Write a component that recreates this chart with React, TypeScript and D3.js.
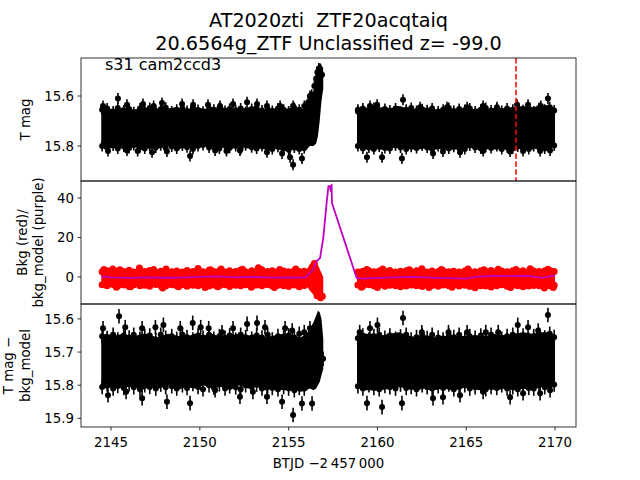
import React from "react";
import * as d3 from "d3";

// ---------------- Data ----------------
// Common time grid (BTJD) for the dense-cloud envelopes; null row marks the data gap.
const envTime = [
  2144.45, 2144.7, 2145.2, 2145.7, 2146.2, 2146.7, 2147.2, 2147.7, 2148.2, 2148.7,
  2149.2, 2149.7, 2150.2, 2150.7, 2151.2, 2151.7, 2152.2, 2152.7, 2153.2, 2153.7,
  2154.2, 2154.7, 2155.2, 2155.7, 2156.0, 2156.2, 2156.4, 2156.55, 2156.65, 2156.75,
  2156.85, 2156.95,
  2157.9,
  2158.85, 2159.2, 2159.7, 2160.2, 2160.7, 2161.2, 2161.7, 2162.2, 2162.7, 2163.2,
  2163.7, 2164.2, 2164.7, 2165.2, 2165.7, 2166.2, 2166.7, 2167.2, 2167.7, 2168.2,
  2168.7, 2169.2, 2169.7, 2170.0,
];

// Panel 1: T mag, bright / faint edge of the dense cloud
const tmagBright = [
  15.66, 15.645, 15.655, 15.645, 15.655, 15.65, 15.645, 15.655, 15.65, 15.645,
  15.655, 15.645, 15.65, 15.655, 15.645, 15.65, 15.655, 15.645, 15.65, 15.655,
  15.65, 15.655, 15.645, 15.655, 15.64, 15.61, 15.58, 15.53, 15.49, 15.47,
  15.475, 15.5,
  null,
  15.66, 15.645, 15.65, 15.645, 15.65, 15.64, 15.65, 15.655, 15.65, 15.655,
  15.65, 15.655, 15.65, 15.655, 15.65, 15.655, 15.645, 15.65, 15.645, 15.64,
  15.645, 15.64, 15.635, 15.65,
];
const tmagFaint = [
  15.8, 15.815, 15.805, 15.81, 15.8, 15.815, 15.805, 15.81, 15.8, 15.815,
  15.805, 15.81, 15.8, 15.81, 15.805, 15.815, 15.8, 15.81, 15.805, 15.815,
  15.81, 15.82, 15.815, 15.82, 15.815, 15.8, 15.8, 15.79, 15.76, 15.7,
  15.62, 15.57,
  null,
  15.8, 15.815, 15.81, 15.815, 15.81, 15.805, 15.81, 15.815, 15.81, 15.815,
  15.81, 15.815, 15.81, 15.805, 15.815, 15.81, 15.815, 15.81, 15.815, 15.81,
  15.815, 15.805, 15.8, 15.795,
];

// Points sitting on the edges of the dense clouds (all three panels share these times)
const edgeTime = [
  2144.5, 2144.78, 2145.12, 2145.38, 2145.72, 2146.02, 2146.28, 2146.63, 2146.9, 2147.18,
  2147.52, 2147.8, 2148.08, 2148.42, 2148.7, 2149.02, 2149.28, 2149.61, 2149.9, 2150.18,
  2150.52, 2150.79, 2151.1, 2151.42, 2151.68, 2152.02, 2152.3, 2152.58, 2152.92, 2153.2,
  2153.5, 2153.82, 2154.08, 2154.4, 2154.72, 2155.0, 2155.32, 2155.6, 2155.88,
  2158.9, 2159.18, 2159.52, 2159.8, 2160.1, 2160.42, 2160.7, 2161.02, 2161.3, 2161.62,
  2161.9, 2162.2, 2162.52, 2162.8, 2163.08, 2163.42, 2163.7, 2164.02, 2164.3, 2164.6,
  2164.92, 2165.2, 2165.5, 2165.82, 2166.1, 2166.4, 2166.72, 2167.0, 2167.3, 2167.62,
  2167.9, 2168.2, 2168.52, 2168.8, 2169.1, 2169.42, 2169.7, 2169.95,
];
const edgeTop1 = [
  15.655, 15.65, 15.662, 15.648, 15.658, 15.652, 15.665, 15.65, 15.657, 15.648,
  15.66, 15.653, 15.647, 15.662, 15.655, 15.65, 15.66, 15.648, 15.656, 15.663,
  15.65, 15.655, 15.648, 15.66, 15.652, 15.657, 15.65, 15.664, 15.652, 15.648,
  15.658, 15.653, 15.66, 15.65, 15.655, 15.662, 15.648, 15.655, 15.64,
  15.662, 15.65, 15.656, 15.648, 15.66, 15.652, 15.658, 15.65, 15.663, 15.655,
  15.648, 15.66, 15.653, 15.657, 15.65, 15.662, 15.655, 15.648, 15.66, 15.652,
  15.656, 15.65, 15.662, 15.655, 15.648, 15.658, 15.652, 15.66, 15.65, 15.655,
  15.648, 15.657, 15.65, 15.662, 15.648, 15.655, 15.645, 15.658,
];
const edgeBot1 = [
  15.8, 15.806, 15.798, 15.81, 15.802, 15.808, 15.796, 15.805, 15.81, 15.8,
  15.806, 15.797, 15.808, 15.802, 15.81, 15.798, 15.805, 15.812, 15.8, 15.796,
  15.806, 15.803, 15.81, 15.798, 15.807, 15.8, 15.812, 15.797, 15.805, 15.81,
  15.8, 15.807, 15.812, 15.803, 15.81, 15.815, 15.806, 15.812, 15.808,
  15.8, 15.81, 15.806, 15.812, 15.802, 15.808, 15.81, 15.798, 15.806, 15.812,
  15.803, 15.808, 15.798, 15.806, 15.812, 15.8, 15.807, 15.81, 15.803, 15.808,
  15.812, 15.798, 15.806, 15.81, 15.803, 15.808, 15.8, 15.812, 15.805, 15.81,
  15.802, 15.808, 15.812, 15.8, 15.806, 15.81, 15.802, 15.798,
];

// Panel 1: scattered points outside the dense cloud (incl. the rising flare column)
const tmagOutTime = [
  2144.55, 2145.39, 2145.9, 2146.8, 2147.4, 2147.87, 2149.0, 2149.62, 2150.46, 2151.14,
  2151.87, 2152.66, 2153.22, 2153.78, 2154.52, 2155.25, 2156.2,
  2144.83, 2145.9, 2147.31, 2148.15, 2149.45, 2150.86, 2152.26, 2153.78, 2154.63, 2155.25,
  2155.08, 2155.75, 2146.5, 2151.5,
  2158.9, 2159.58, 2159.98, 2161.44, 2162.4, 2163.92, 2165.05, 2165.95, 2166.73, 2167.86,
  2168.48, 2169.2, 2169.6,
  2159.41, 2160.26, 2161.38, 2163.13, 2163.69, 2164.65, 2165.95, 2167.47, 2168.2, 2169.16,
  2169.72,
  2156.1, 2156.3, 2156.45, 2156.55, 2156.62, 2156.7, 2156.78, 2156.88,
];
const tmagOutMag = [
  15.64, 15.61, 15.635, 15.632, 15.64, 15.628, 15.632, 15.635, 15.635, 15.64,
  15.632, 15.625, 15.632, 15.64, 15.64, 15.64, 15.6,
  15.82, 15.818, 15.825, 15.822, 15.84, 15.818, 15.818, 15.825, 15.83, 15.875,
  15.845, 15.85, 15.82, 15.82,
  15.655, 15.64, 15.635, 15.615, 15.645, 15.645, 15.645, 15.64, 15.645, 15.635,
  15.635, 15.64, 15.61,
  15.845, 15.845, 15.85, 15.83, 15.822, 15.825, 15.82, 15.822, 15.82, 15.82,
  15.818,
  15.625, 15.595, 15.56, 15.53, 15.505, 15.49, 15.492, 15.515,
];

// Panel 2: background flux (red) envelope and scattered points
const bkgHigh = [
  3.5, 3.8, 3.2, 4.0, 3.4, 3.9, 3.3, 3.7, 3.5, 3.2,
  3.8, 3.4, 3.6, 3.9, 3.3, 3.7, 3.4, 3.8, 3.5, 3.6,
  3.4, 3.7, 3.3, 3.6, 3.5, 6.5, 7.5, 8.0, 6.0, 4.0,
  2.0, 0.0,
  null,
  3.0, 3.5, 3.2, 3.6, 3.3, 3.5, 3.8, 3.2, 3.4, 3.1,
  3.5, 3.3, 3.6, 3.2, 3.4, 3.6, 3.3, 3.5, 3.2, 3.6,
  3.4, 3.3, 3.7, 3.4,
];
const bkgLow = [
  -4.0, -4.6, -4.2, -4.8, -4.3, -4.9, -4.4, -4.6, -4.2, -4.7,
  -4.5, -4.3, -4.8, -4.4, -4.6, -4.2, -4.7, -4.4, -4.6, -4.3,
  -4.7, -4.5, -4.8, -4.6, -4.5, -7.0, -9.0, -10.5, -11.5, -12.0,
  -12.0, -11.0,
  null,
  -4.2, -4.8, -4.5, -4.7, -4.4, -4.8, -4.5, -4.9, -4.6, -4.4,
  -4.8, -4.6, -4.9, -4.5, -4.7, -4.4, -4.8, -4.6, -4.9, -4.5,
  -4.7, -4.8, -4.6, -4.5,
];
const edgeTop2 = [
  2.6, 3.2, 2.4, 3.0, 2.8, 3.4, 2.5, 3.1, 2.7, 3.3,
  2.4, 2.9, 3.2, 2.6, 3.0, 2.5, 3.3, 2.8, 3.1, 2.6,
  3.4, 2.7, 3.0, 2.5, 3.2, 2.8, 3.5, 2.6, 3.1, 2.9,
  3.6, 2.7, 3.2, 2.8, 3.0, 2.6, 3.1, 2.7, 2.9,
  2.5, 2.9, 3.2, 2.6, 3.0, 2.7, 3.3, 2.5, 2.9, 3.1,
  2.6, 3.2, 2.8, 2.5, 3.0, 2.7, 3.1, 2.6, 2.9, 2.5,
  3.0, 2.7, 2.6, 3.2, 2.8, 3.3, 2.7, 3.0, 2.6, 3.1,
  2.8, 3.2, 2.6, 3.0, 2.7, 3.1, 3.3, 2.8,
];
const edgeBot2 = [
  -4.0, -4.5, -3.8, -4.6, -4.1, -4.8, -3.9, -4.4, -4.2, -4.7,
  -3.8, -4.3, -4.6, -4.0, -4.5, -3.9, -4.7, -4.2, -4.4, -3.8,
  -4.6, -4.1, -4.5, -3.9, -4.8, -4.2, -4.4, -4.0, -4.7, -4.1,
  -4.5, -3.9, -4.6, -4.2, -4.4, -4.8, -4.1, -4.5, -4.3,
  -4.1, -4.6, -4.0, -4.5, -3.9, -4.7, -4.2, -4.4, -3.8, -4.6,
  -4.1, -4.5, -4.8, -4.0, -4.3, -4.7, -4.1, -4.5, -3.9, -4.6,
  -4.2, -4.8, -4.0, -4.4, -4.6, -4.1, -4.5, -3.9, -4.7, -4.2,
  -4.4, -4.0, -4.6, -4.3, -4.5, -4.1, -4.4, -4.2,
];
const bkgOutTime = [
  2144.6, 2145.1, 2145.5, 2146.6, 2147.4, 2148.1, 2149.9, 2150.6, 2151.2, 2152.4,
  2153.3, 2154.5, 2155.4,
  2145.3, 2146.1, 2147.9, 2148.8, 2150.3, 2151.0, 2152.9, 2154.2, 2155.6,
  2156.45, 2156.6, 2156.8, 2156.9,
  2159.4, 2160.3, 2161.8, 2162.5, 2163.6, 2165.1, 2166.0, 2166.8, 2167.8, 2168.6, 2169.6,
  2159.1, 2160.0, 2161.3, 2162.9, 2164.2, 2165.5, 2166.4, 2167.5, 2168.2, 2169.4, 2169.9,
];
const bkgOutVal = [
  3.8, 4.0, 3.6, 4.5, 3.8, 4.0, 4.3, 3.7, 4.0, 3.9,
  4.6, 3.8, 4.0,
  -5.2, -5.0, -5.6, -5.0, -5.3, -4.9, -5.2, -5.4, -5.0,
  6.8, -9.5, -10.5, -9.8,
  3.8, 4.0, 3.7, 4.2, 3.8, 4.0, 3.7, 3.9, 3.8, 4.1, 3.9,
  -5.2, -5.4, -5.0, -5.3, -5.2, -5.5, -5.1, -5.4, -5.0, -5.6, -5.3,
];
// Panel 2: background model (purple line)
const modelTime = [
  2144.45, 2145, 2146, 2147, 2148, 2149, 2150, 2151, 2152, 2153,
  2154, 2155, 2155.7, 2155.92, 2156.2, 2156.4, 2156.58, 2156.77, 2156.95, 2157.14,
  2157.24, 2157.33, 2157.37, 2157.42, 2157.44, 2158.83, 2159.2, 2160, 2161, 2162,
  2163, 2164, 2165, 2165.5, 2166.5, 2167.5, 2168.5, 2169.3, 2169.7, 2170.0,
];
const modelVal = [
  0.3, -0.2, -0.5, -0.2, -0.4, -0.3, 0, 0.3, -0.2, 0,
  -0.3, -0.2, -0.3, -0.5, 2, 4, 8, 9.6, 19.7, 37.5,
  46, 46, 43.5, 46.7, 37.5, -0.5, -0.8, -0.5, -0.2, 0,
  -0.3, -0.6, -0.8, 0, 0.5, 0.4, 0.6, -0.5, 0.3, 0.8,
];

// Panel 3: T mag - bkg_model envelope and scattered points
const corrBright = [
  15.655, 15.645, 15.65, 15.645, 15.655, 15.645, 15.65, 15.655, 15.645, 15.65,
  15.655, 15.645, 15.65, 15.645, 15.655, 15.65, 15.645, 15.65, 15.645, 15.655,
  15.65, 15.645, 15.65, 15.655, 15.645, 15.63, 15.61, 15.59, 15.575, 15.58,
  15.6, 15.66,
  null,
  15.655, 15.645, 15.645, 15.65, 15.645, 15.64, 15.65, 15.655, 15.65, 15.655,
  15.65, 15.655, 15.65, 15.655, 15.65, 15.65, 15.645, 15.65, 15.645, 15.64,
  15.645, 15.64, 15.64, 15.65,
];
const corrFaint = [
  15.8, 15.81, 15.805, 15.81, 15.8, 15.815, 15.805, 15.81, 15.8, 15.815,
  15.805, 15.81, 15.8, 15.81, 15.805, 15.815, 15.8, 15.81, 15.805, 15.815,
  15.81, 15.815, 15.815, 15.82, 15.815, 15.81, 15.815, 15.81, 15.8, 15.79,
  15.77, 15.75,
  null,
  15.8, 15.815, 15.815, 15.815, 15.81, 15.805, 15.81, 15.815, 15.81, 15.815,
  15.81, 15.815, 15.81, 15.805, 15.815, 15.81, 15.815, 15.81, 15.815, 15.81,
  15.815, 15.805, 15.8, 15.795,
];
const edgeTop3 = [
  15.652, 15.658, 15.648, 15.662, 15.65, 15.656, 15.648, 15.66, 15.653, 15.65,
  15.663, 15.648, 15.657, 15.652, 15.66, 15.648, 15.655, 15.662, 15.65, 15.656,
  15.648, 15.66, 15.652, 15.657, 15.65, 15.663, 15.648, 15.655, 15.66, 15.65,
  15.656, 15.648, 15.662, 15.652, 15.658, 15.65, 15.656, 15.645, 15.64,
  15.658, 15.65, 15.662, 15.652, 15.648, 15.657, 15.65, 15.66, 15.653, 15.648,
  15.662, 15.655, 15.65, 15.658, 15.648, 15.656, 15.662, 15.65, 15.655, 15.648,
  15.66, 15.652, 15.657, 15.65, 15.662, 15.648, 15.655, 15.66, 15.652, 15.648,
  15.657, 15.65, 15.663, 15.652, 15.648, 15.656, 15.645, 15.655,
];
const edgeBot3 = [
  15.805, 15.798, 15.81, 15.802, 15.808, 15.797, 15.806, 15.812, 15.8, 15.805,
  15.81, 15.798, 15.806, 15.803, 15.81, 15.8, 15.808, 15.796, 15.805, 15.812,
  15.8, 15.807, 15.797, 15.81, 15.803, 15.806, 15.812, 15.8, 15.805, 15.798,
  15.81, 15.803, 15.808, 15.812, 15.805, 15.81, 15.815, 15.808, 15.81,
  15.803, 15.81, 15.8, 15.808, 15.812, 15.802, 15.806, 15.81, 15.798, 15.808,
  15.805, 15.812, 15.8, 15.806, 15.81, 15.803, 15.808, 15.798, 15.812, 15.805,
  15.8, 15.81, 15.806, 15.802, 15.812, 15.805, 15.808, 15.8, 15.81, 15.806,
  15.812, 15.803, 15.808, 15.81, 15.8, 15.806, 15.802, 15.798,
];
const corrOutTime = [
  2144.55, 2145.45, 2145.8, 2146.75, 2147.5, 2147.95, 2148.9, 2149.6, 2150.05, 2150.5,
  2151.25, 2151.87, 2152.66, 2153.22, 2153.67, 2154.8, 2155.2, 2156.2,
  2144.83, 2145.85, 2146.75, 2148.15, 2149.45, 2150.86, 2152.26, 2152.99, 2153.78, 2154.63,
  2155.25, 2155.75, 2156.32, 2156.94,
  2159.0, 2159.58, 2160.0, 2161.44, 2162.5, 2164.0, 2165.05, 2166.1, 2166.8, 2167.9,
  2168.48, 2169.05, 2169.6,
  2159.41, 2160.26, 2161.38, 2163.13, 2163.69, 2164.65, 2165.95, 2167.47, 2168.2, 2169.16,
  2169.72,
];
const corrOutMag = [
  15.628, 15.592, 15.625, 15.628, 15.625, 15.618, 15.628, 15.612, 15.625, 15.628,
  15.64, 15.628, 15.615, 15.612, 15.625, 15.628, 15.635, 15.628,
  15.83, 15.82, 15.839, 15.85, 15.854, 15.815, 15.835, 15.82, 15.835, 15.85,
  15.89, 15.855, 15.855, 15.72,
  15.64, 15.628, 15.618, 15.597, 15.64, 15.64, 15.64, 15.64, 15.64, 15.618,
  15.625, 15.635, 15.588,
  15.854, 15.866, 15.854, 15.839, 15.836, 15.83, 15.82, 15.836, 15.824, 15.824,
  15.815,
];

const markTime = 2167.8; // red dashed vertical line
const xTicks = [2145, 2150, 2155, 2160, 2165, 2170];
const y1Ticks = [15.6, 15.8];
const y2Ticks = [0, 20, 40];
const y3Ticks = [15.6, 15.7, 15.8, 15.9];

// ---------------- Layout ----------------
const L = 81, R = 576;
const T1 = 58, T2 = 181, T3 = 304, B3 = 427;
const FONT = "DejaVu Sans, Liberation Sans, sans-serif";

const x = d3.scaleLinear().domain([2143.31, 2171.18]).range([L, R]);
const y1 = d3.scaleLinear().domain([15.448, 15.94]).range([T1, T2]);
const y2 = d3.scaleLinear().domain([-13.7, 48.6]).range([T3, T2]);
const y3 = d3.scaleLinear().domain([15.555, 15.926]).range([T3, B3]);

const idx = d3.range(envTime.length);

function envArea(top: (number | null)[], bot: (number | null)[], y: d3.ScaleLinear<number, number>) {
  return d3
    .area<number>()
    .defined((i) => top[i] != null && bot[i] != null)
    .x((i) => x(envTime[i]))
    .y0((i) => y(top[i] as number))
    .y1((i) => y(bot[i] as number))(idx) as string;
}

const ERR = 0.022;

function ErrPoints({ ts, ms, y }: { ts: number[]; ms: number[]; y: d3.ScaleLinear<number, number> }) {
  return (
    <g>
      {ts.map((t, i) => (
        <g key={i}>
          <line x1={x(t)} x2={x(t)} y1={y(ms[i] - ERR)} y2={y(ms[i] + ERR)} stroke="#000" strokeWidth={1.6} />
          <circle cx={x(t)} cy={y(ms[i])} r={3} fill="#000" />
        </g>
      ))}
    </g>
  );
}

function RedDots({ ts, vs }: { ts: number[]; vs: number[] }) {
  return (
    <g>
      {ts.map((t, i) => (
        <circle key={i} cx={x(t)} cy={y2(vs[i])} r={3.5} fill="#ff0000" />
      ))}
    </g>
  );
}

function YTicks({ ticks, y, fmt }: { ticks: number[]; y: d3.ScaleLinear<number, number>; fmt: (v: number) => string }) {
  return (
    <g>
      {ticks.map((v) => (
        <g key={v}>
          <line x1={L - 3.5} x2={L} y1={y(v)} y2={y(v)} stroke="#000" strokeWidth={0.8} />
          <text x={L - 7} y={y(v)} dy="0.35em" textAnchor="end" fontSize={13.33} fontFamily={FONT} fill="#000">
            {fmt(v)}
          </text>
        </g>
      ))}
    </g>
  );
}

export default function App() {
  const modelLine = d3
    .line<number>()
    .x((i) => x(modelTime[i]))
    .y((i) => y2(modelVal[i]))(d3.range(modelTime.length)) as string;

  const f1 = d3.format(".1f");
  const f0 = d3.format("d");

  return (
    <svg width={640} height={480} style={{ position: "absolute", left: 0, top: 0, background: "#fff" }}>
      <defs>
        <clipPath id="c1"><rect x={L} y={T1} width={R - L} height={T2 - T1} /></clipPath>
        <clipPath id="c2"><rect x={L} y={T2} width={R - L} height={T3 - T2} /></clipPath>
        <clipPath id="c3"><rect x={L} y={T3} width={R - L} height={B3 - T3} /></clipPath>
      </defs>
      <rect x={0} y={0} width={640} height={480} fill="#fff" />

      {/* Title */}
      <text x={(L + R) / 2} y={27} textAnchor="middle" fontSize={19.2} fontFamily={FONT} fill="#000">
        {"AT2020zti\u00a0\u00a0ZTF20acqtaiq"}
      </text>
      <text x={(L + R) / 2} y={49.5} textAnchor="middle" fontSize={19.2} fontFamily={FONT} fill="#000">
        20.6564g_ZTF Unclassified z= -99.0
      </text>

      {/* Panel 1 */}
      <g clipPath="url(#c1)">
        <path d={envArea(tmagBright, tmagFaint, y1)} fill="#000" />
        <ErrPoints ts={edgeTime} ms={edgeTop1} y={y1} />
        <ErrPoints ts={edgeTime} ms={edgeBot1} y={y1} />
        <ErrPoints ts={tmagOutTime} ms={tmagOutMag} y={y1} />
        <line x1={x(markTime)} x2={x(markTime)} y1={T1} y2={T2} stroke="#ff0000" strokeWidth={1.5} strokeDasharray="5.55 2.4" />
      </g>
      <text x={105} y={70} fontSize={16} fontFamily={FONT} fill="#000">s31 cam2ccd3</text>

      {/* Panel 2 */}
      <g clipPath="url(#c2)">
        <path d={envArea(bkgHigh, bkgLow, y2)} fill="#ff0000" />
        <RedDots ts={edgeTime} vs={edgeTop2} />
        <RedDots ts={edgeTime} vs={edgeBot2} />
        <RedDots ts={bkgOutTime} vs={bkgOutVal} />
        <path d={modelLine} fill="none" stroke="#bf00bf" strokeWidth={1.8} strokeLinejoin="round" />
      </g>

      {/* Panel 3 */}
      <g clipPath="url(#c3)">
        <path d={envArea(corrBright, corrFaint, y3)} fill="#000" />
        <ErrPoints ts={edgeTime} ms={edgeTop3} y={y3} />
        <ErrPoints ts={edgeTime} ms={edgeBot3} y={y3} />
        <ErrPoints ts={corrOutTime} ms={corrOutMag} y={y3} />
      </g>

      {/* Frames */}
      <rect x={L} y={T1} width={R - L} height={T2 - T1} fill="none" stroke="#000" strokeWidth={0.8} />
      <rect x={L} y={T2} width={R - L} height={T3 - T2} fill="none" stroke="#000" strokeWidth={0.8} />
      <rect x={L} y={T3} width={R - L} height={B3 - T3} fill="none" stroke="#000" strokeWidth={0.8} />

      {/* Y ticks */}
      <YTicks ticks={y1Ticks} y={y1} fmt={f1} />
      <YTicks ticks={y2Ticks} y={y2} fmt={f0} />
      <YTicks ticks={y3Ticks} y={y3} fmt={f1} />

      {/* X ticks (bottom panel) */}
      {xTicks.map((v) => (
        <g key={v}>
          <line x1={x(v)} x2={x(v)} y1={B3} y2={B3 + 3.5} stroke="#000" strokeWidth={0.8} />
          <text x={x(v)} y={446.5} textAnchor="middle" fontSize={13.33} fontFamily={FONT} fill="#000">
            {v}
          </text>
        </g>
      ))}
      <text x={(L + R) / 2} y={468} textAnchor="middle" fontSize={13.33} fontFamily={FONT} fill="#000">
        BTJD −2{"\u2009"}457{"\u2009"}000
      </text>

      {/* Y labels */}
      <text transform={`translate(30,${(T1 + T2) / 2}) rotate(-90)`} textAnchor="middle" fontSize={13.33} fontFamily={FONT} fill="#000">
        T mag
      </text>
      <text transform={`translate(27,${(T2 + T3) / 2}) rotate(-90)`} textAnchor="middle" fontSize={13.33} fontFamily={FONT} fill="#000">
        Bkg (red)/
      </text>
      <text transform={`translate(42.5,${(T2 + T3) / 2}) rotate(-90)`} textAnchor="middle" fontSize={13.33} fontFamily={FONT} fill="#000">
        bkg_model (purple)
      </text>
      <text transform={`translate(13,${(T3 + B3) / 2}) rotate(-90)`} textAnchor="middle" fontSize={13.33} fontFamily={FONT} fill="#000">
        T mag −
      </text>
      <text transform={`translate(29.5,${(T3 + B3) / 2}) rotate(-90)`} textAnchor="middle" fontSize={13.33} fontFamily={FONT} fill="#000">
        bkg_model
      </text>
    </svg>
  );
}
